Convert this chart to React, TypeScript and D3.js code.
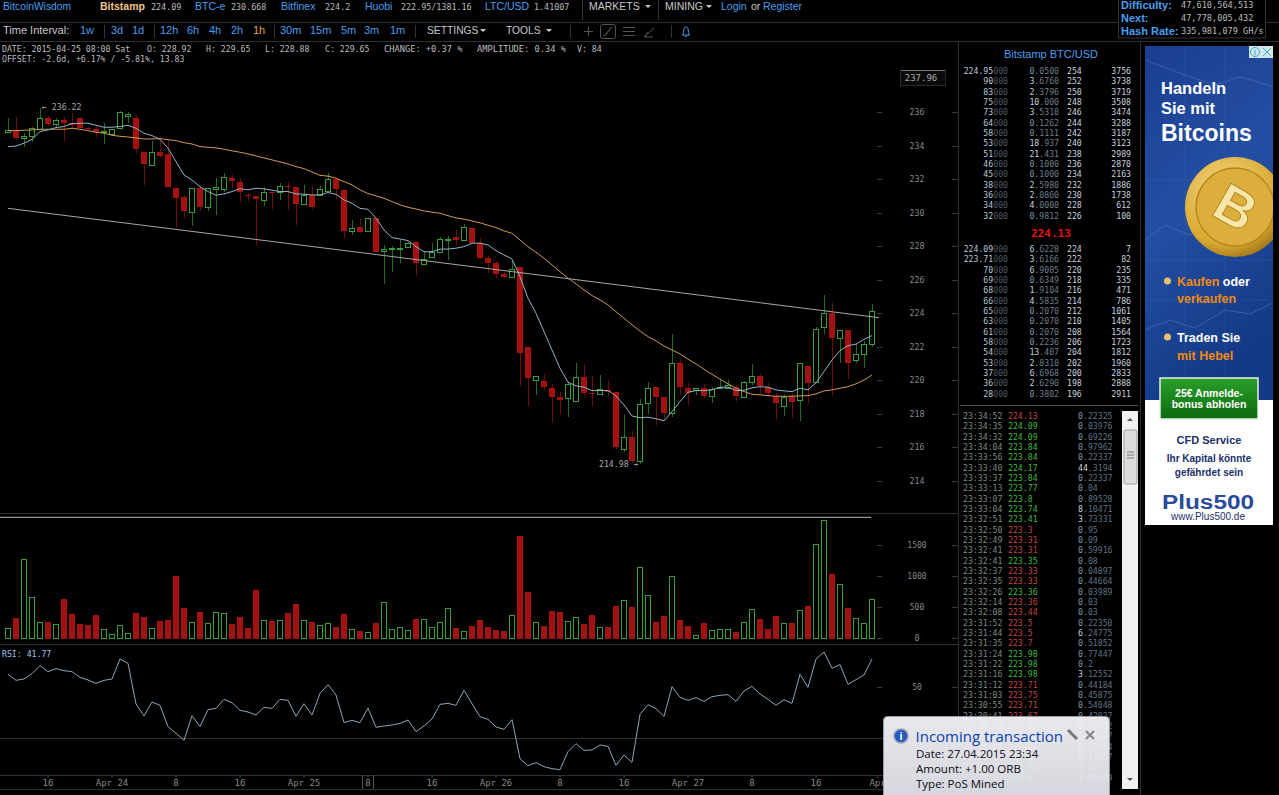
import React from 'react';
import * as d3 from 'd3';

// [open, high, low, close]
const ohlc: number[][] = [
[234.79,235.63,234.73,234.91],[234.91,235.69,234.47,234.47],[234.47,234.73,233.90,234.59],[234.55,235.09,234.23,235.07],[234.99,236.22,234.99,235.63],
[235.63,235.76,235.19,235.31],[235.31,235.63,235.03,235.51],[235.51,235.69,234.29,235.35],[235.33,235.93,235.07,235.25],[235.63,235.69,235.07,235.07],
[235.07,235.11,234.93,234.99],[234.97,235.17,234.53,234.83],[234.79,235.33,234.09,234.87],[234.69,235.01,234.63,234.97],[235.03,236.06,235.03,236.02],
[235.75,236.02,235.36,235.87],[235.63,235.82,233.57,233.78],[233.60,233.60,231.65,232.90],[232.84,234.27,232.80,233.63],[233.63,234.53,233.28,233.39],
[233.50,234.33,231.54,231.54],[231.48,231.48,229.06,230.89],[230.91,231.05,229.69,230.11],[230.05,231.48,229.20,231.48],[231.48,231.65,230.09,230.35],
[230.35,231.45,230.11,231.45],[231.42,232.05,229.85,231.53],[231.41,232.34,231.25,232.11],[232.05,232.24,231.45,231.90],[231.81,232.05,230.65,231.21],
[231.07,231.19,230.69,231.03],[230.99,230.99,228.06,230.83],[230.75,231.51,230.39,231.21],[231.23,231.23,230.21,231.19],[231.21,231.75,230.75,231.57],
[231.59,231.84,230.15,231.54],[231.53,231.53,229.28,230.51],[230.51,231.65,230.45,231.05],[231.03,231.59,230.19,230.31],[231.03,231.59,230.99,231.39],
[231.31,232.34,231.31,231.99],[231.99,232.00,230.79,231.41],[231.35,231.35,228.50,228.90],[228.92,229.56,228.66,229.08],[229.12,229.62,228.80,228.82],
[228.92,229.65,228.88,229.65],[229.68,229.68,227.65,227.65],[227.69,228.06,225.74,227.82],[227.84,228.00,226.43,227.88],[227.87,228.36,227.01,227.90],
[227.96,228.26,227.93,228.17],[228.22,228.32,226.23,226.97],[226.95,227.66,226.87,227.23],[227.33,228.17,227.31,227.63],[227.63,228.52,227.60,228.40],
[228.40,228.60,227.17,228.44],[228.52,228.96,228.06,228.34],[228.36,229.32,228.32,229.12],[229.06,229.06,228.17,228.17],[228.17,228.46,227.23,227.31],
[227.29,227.41,226.41,227.01],[226.99,227.13,226.08,226.35],[226.33,226.47,226.08,226.15],[226.17,227.13,226.17,226.61],[226.73,226.73,219.66,221.63],
[221.97,221.97,218.47,220.14],[220.02,220.26,219.13,220.26],[219.93,220.36,219.41,219.57],[219.54,219.75,217.45,219.01],[218.97,219.27,217.91,218.83],
[218.95,219.87,217.81,219.75],[218.77,221.04,218.77,220.17],[220.17,220.94,219.11,219.25],[219.23,220.24,218.37,219.19],[219.19,220.28,219.11,219.45],
[219.41,220.00,219.05,219.31],[219.31,219.31,215.88,216.02],[215.90,217.91,215.72,216.58],[216.58,216.96,215.03,215.19],[215.19,218.87,214.98,218.55],
[218.61,219.87,217.97,219.54],[219.57,219.60,217.32,219.01],[218.97,219.01,217.62,218.05],[218.05,222.75,217.81,221.04],[221.02,221.24,219.11,219.60],
[219.54,219.81,218.51,219.21],[219.39,219.54,219.11,219.54],[219.54,219.75,218.91,219.03],[219.07,219.57,218.65,219.47],[219.54,220.08,219.51,219.60],
[219.54,220.00,219.51,219.69],[219.60,219.71,218.77,219.05],[219.01,219.94,218.97,219.87],[219.90,220.96,219.71,220.26],[220.26,220.34,219.11,219.65],
[219.60,219.84,219.01,219.25],[219.07,219.21,217.62,218.61],[218.47,219.11,217.85,219.01],[219.07,219.21,217.72,218.71],[218.79,221.04,217.57,221.04],
[220.84,220.84,218.57,219.84],[219.87,223.15,219.87,223.03],[223.15,225.08,222.75,223.99],[223.99,224.58,219.05,222.53],[222.53,222.99,221.04,222.97],
[222.99,222.99,220.06,221.04],[221.18,222.15,221.04,221.54],[221.57,222.35,220.70,222.14],[222.17,224.54,221.96,224.12],
];
const volumes = [156,318,1277,658,253,253,232,636,383,221,205,377,140,59,205,75,399,334,167,270,286,1003,480,253,415,243,415,399,221,334,156,771,286,270,286,399,544,286,253,205,243,172,383,140,119,92,237,577,140,183,124,313,302,172,253,480,156,119,189,286,172,129,119,377,1649,749,253,189,431,415,270,334,221,377,183,172,512,609,501,1148,695,253,361,1008,296,189,54,243,124,151,140,102,253,474,313,140,350,243,243,447,512,1525,1903,1030,879,491,318,243,636];
const maFast = [233.93,233.97,234.14,234.37,234.83,234.93,235.07,235.13,235.31,235.33,235.33,235.21,235.09,235.09,235.13,235.21,235.03,234.73,234.59,234.37,233.84,233.04,232.24,231.94,231.54,231.25,231.03,231.11,231.25,231.42,231.35,231.45,231.41,231.33,231.25,231.25,231.11,231.09,231.05,231.05,
231.19,231.09,230.75,230.55,230.25,230.19,229.66,228.96,228.50,228.42,228.32,227.96,227.66,227.66,227.81,227.82,227.87,227.96,228.17,228.17,228.06,227.72,227.47,227.23,226.17,224.88,223.99,222.89,221.79,220.70,219.87,219.65,219.57,219.37,219.37,219.37,219.05,218.51,217.85,217.75,
217.78,217.69,217.56,218.11,218.71,219.27,219.37,219.37,219.41,219.57,219.57,219.37,219.39,219.53,219.60,219.57,219.41,219.35,219.31,219.51,219.41,219.84,220.50,221.20,221.75,222.05,222.14,222.43,222.65];
const maSlow = [234.89,234.89,234.91,234.93,234.97,234.97,234.97,234.97,235.03,234.97,234.89,234.79,234.73,234.61,234.55,234.51,234.45,234.39,234.39,234.41,234.35,234.29,234.17,234.09,233.93,233.90,233.85,233.78,233.68,233.60,233.50,233.38,233.26,233.14,233.02,232.90,232.74,232.62,232.42,232.22,
232.17,232.05,231.84,231.65,231.35,231.13,230.99,230.85,230.65,230.45,230.31,230.21,230.09,230.02,229.96,229.81,229.68,229.60,229.50,229.38,229.24,229.10,228.90,228.76,228.36,227.96,227.63,227.27,226.87,226.47,226.08,225.74,225.38,225.04,224.78,224.48,224.08,223.69,223.29,222.93,
222.59,222.33,222.03,221.79,221.56,221.24,220.96,220.64,220.34,220.05,219.77,219.51,219.31,219.15,219.11,219.07,219.03,219.03,219.03,219.05,219.07,219.17,219.35,219.41,219.51,219.60,219.77,220.00,220.30];
const rsiValues = [54.94,52.6,53.12,55.2,58.32,55.98,57.15,56.37,55.98,53.77,52.73,51.43,52.6,53.12,60.92,59.23,43.37,38.69,44.15,42.85,34.54,31.94,29.21,38.82,34.54,41.16,41.68,45.19,43.89,40.9,40.25,39.08,42.07,41.68,45.19,44.8,38.56,43.5,39.08,47.53,50.91,46.88,36.1,37,36.1,41.77,34.28,34.8,35.19,35.83,37.13,32.59,34.8,37.52,43.24,43.63,42.85,48.7,43.5,38.43,
37.4,34.41,33.5,37.26,22.06,19.33,20.5,18.94,18.16,17.77,24.79,27.91,25.31,25.44,27.39,26.87,19.46,23.49,20.63,39.34,43.11,41.55,38.56,50.13,45.97,44.8,45.84,44.41,46.23,46.75,47.01,44.41,48.44,50.26,47.27,45.19,42.85,45.06,43.63,54.94,49.87,60.92,63.65,57.28,58.71,51.04,52.86,54.68,60.92];
const trendPrices = [230.25, 223.72];
const volumeLevel = 1953;
const priceTicks = [236,234,232,230,228,226,224,222,220,218,216,214];
const volumeTicks = [1500,1000,500,0];
const timeTicks: [string, number][] = [['16',5],['Apr 24',13],['8',21],['16',29],['Apr 25',37],['8',45],['16',53],['Apr 26',61],['8',69],['16',77],['Apr 27',85],['8',93],['16',101],['Apr',108.7]];

const infoLine: [string, number][] = [['DATE: 2015-04-25 08:00 Sat',2],['O: 228.92',147],['H: 229.65',206],['L: 228.88',265],['C: 229.65',325],['CHANGE: +0.37 %',384],['AMPLITUDE: 0.34 %',477],['V: 84',577]];
const askPrices = ['224.95','90','83','75','73','64','58','53','51','46','45','38','36','34','32'];
const askAmounts = ['0.0500','3.6760','2.3796','10.000','3.5310','0.1262','0.1111','18.937','21.431','0.1000','0.1000','2.5980','2.0860','4.0000','0.9812'];
const askLevels = ['254','252','250','248','246','244','242','240','238','236','234','232','230','228','226'];
const askSums = ['3756','3738','3719','3508','3474','3288','3187','3123','2989','2870','2163','1886','1738','612','100'];
const bidPrices = ['224.09','223.71','70','69','68','66','65','63','61','58','54','53','37','36','28'];
const bidAmounts = ['6.6228','3.6166','6.9085','0.6349','1.9104','4.5835','0.2070','0.2070','0.2070','0.2236','13.407','2.8310','6.6968','2.6290','0.3802'];
const bidLevels = ['224','222','220','218','216','214','212','210','208','206','204','202','200','198','196'];
const bidSums = ['7','82','235','335','471','786','1061','1405','1564','1723','1812','1960','2833','2888','2911'];
const trades: [string,string,number,string][] = [
['23:34:52','224.13',0,'0.22325'],['23:34:35','224.09',1,'0.03976'],['23:34:32','224.09',1,'0.69226'],['23:34:04','223.84',1,'0.97962'],['23:33:56','223.84',1,'0.22337'],
['23:33:40','224.17',1,'44.3194'],['23:33:37','223.84',1,'0.22337'],['23:33:13','223.77',1,'0.04'],['23:33:07','223.8',1,'0.89528'],['23:33:04','223.74',1,'8.10471'],
['23:32:51','223.41',1,'3.73331'],['23:32:50','223.3',0,'0.95'],['23:32:49','223.31',0,'0.09'],['23:32:41','223.31',0,'0.59916'],['23:32:41','223.35',1,'0.08'],
['23:32:37','223.33',0,'0.04897'],['23:32:35','223.33',0,'0.44664'],['23:32:26','223.36',1,'0.03989'],['23:32:14','223.36',0,'0.03'],['23:32:08','223.44',0,'0.03'],
['23:31:52','223.5',0,'0.22350'],['23:31:44','223.5',0,'6.24775'],['23:31:35','223.7',0,'0.51852'],['23:31:24','223.98',1,'0.77447'],['23:31:22','223.98',1,'0.2'],
['23:31:16','223.98',1,'3.12552'],['23:31:12','223.71',0,'0.44184'],['23:31:03','223.75',0,'0.45875'],['23:30:55','223.71',0,'0.54048'],['23:30:41','223.67',0,'0.42027'],
['23:30:38','223.67',0,'0.47792'],['23:30:31','223.66',0,'0.50227'],['23:30:24','223.66',0,'0.53384'],['23:30:17','223.65',0,'0.41867'],['23:30:11','223.72',1,'0.03'],['23:30:02','223.8',1,'1.49999'],
];
const headerItems: [string,number,string,string?,number?][] = [
['Bitstamp',100,'#f4c48e','224.09',151],['BTC-e',195,'#4a9fee','230.668',231],['Bitfinex',281,'#4a9fee','224.2',325],['Huobi',365,'#4a9fee','222.95/1381.16',401],['LTC/USD',485,'#4a9fee','1.41007',534],
];
const intervals: [string,number,string?][] = [['1w',80],['3d',111],['1d',132],['12h',160],['6h',187],['4h',209],['2h',231],['1h',253,'#e8a35c'],['30m',280],['15m',310],['5m',341],['3m',364],['1m',390]];
const blockStats: [string,string,number][] = [['Difficulty:','47,610,564,513',5],['Next:','47,778,005,432',18],['Hash Rate:','335,981,079 GH/s',31]];

const MONO = '"DejaVu Sans Mono", monospace';
const SANS = '"Liberation Sans", Arial, sans-serif';
const BLUE = '#4a9fee';
const GRID = '#303030';
const UP = '#38a038';
const DOWN = '#a51111';

const x = d3.scaleLinear().domain([0, 108]).range([8, 872]);
const yP = d3.scaleLinear().domain([214, 236]).range([480.5, 112]);
const yV = d3.scaleLinear().domain([0, 1500]).range([638, 545.3]);
const yR = d3.scaleLinear().domain([30, 50]).range([738.3, 687]);
const lineP = d3.line<number>().x((_, i) => x(i)).y(d => yP(d));
const lineR = d3.line<number>().x((_, i) => x(i)).y(d => yR(d));

function Mono({ x: px, y, s = 9, fill = '#b5b5b5', anchor = 'start', weight = 'normal', children }: any) {
  return <text x={px} y={y} fontFamily={MONO} fontSize={s} fill={fill} textAnchor={anchor} fontWeight={weight}>{children}</text>;
}
function Sans({ x: px, y, s = 11, fill = BLUE, anchor = 'start', weight = 'normal', children }: any) {
  return <text x={px} y={y} fontFamily={SANS} fontSize={s} fill={fill} textAnchor={anchor} fontWeight={weight}>{children}</text>;
}
const Caret = ({ x: px, y, c = '#c8c8c8' }: any) => <path d={`M${px} ${y}h6l-3 3z`} fill={c} />;
const VSep = ({ x: px, y1, y2 }: any) => <line x1={px + 0.5} x2={px + 0.5} y1={y1} y2={y2} stroke="#333" />;

function Amount({ x: px, y, v }: any) {
  const [a, b] = v.split('.');
  return <text x={px} y={y} fontFamily={MONO} fontSize={8.2} textAnchor="end">
    <tspan fill={a === '0' ? '#7f9bb0' : '#c9d3da'}>{a}</tspan><tspan fill="#6d7f8c">.{b}</tspan>
  </text>;
}
function BookRow({ y, price, amount, level, sum }: any) {
  return <g>
    <text x={1008} y={y} fontFamily={MONO} fontSize={8.2} textAnchor="end"><tspan fill="#b9c6d0">{price}</tspan><tspan fill="#4c5a66">000</tspan></text>
    <Amount x={1059} y={y} v={amount} />
    <Mono x={1067} y={y} s={8.2} fill="#c6d2dc">{level}</Mono>
    <Mono x={1131} y={y} s={8.2} fill="#c6d2dc" anchor="end">{sum}</Mono>
  </g>;
}

function Chart() {
  return <g>
    {/* panel frames */}
    <g stroke={GRID} shapeRendering="crispEdges">
      <line x1={0} x2={1279} y1={22.5} y2={22.5} />
      <line x1={0} x2={1279} y1={41.5} y2={41.5} />
      <line x1={0} x2={958} y1={513.5} y2={513.5} />
      <line x1={0} x2={958} y1={644.5} y2={644.5} />
      <line x1={0} x2={958} y1={775.5} y2={775.5} />
      <line x1={0} x2={958} y1={789.5} y2={789.5} />
      <line x1={0} x2={958} y1={738.5} y2={738.5} />
      <line x1={958.5} x2={958.5} y1={41} y2={795} />
      <line x1={1140.5} x2={1140.5} y1={41} y2={795} />
      <line x1={960} x2={1138} y1={405.5} y2={405.5} stroke="#555" />
    </g>
    {/* price axis */}
    {priceTicks.map(t => <g key={t}>
      <path d={`M877 ${Math.round(yP(t)) + 0.5}h5M952 ${Math.round(yP(t)) + 0.5}h6`} stroke="#3a3a3a" />
      <Mono x={917} y={yP(t) + 3} s={8.2} fill="#888" anchor="middle">{t}</Mono>
    </g>)}
    <rect x={900.5} y={70.5} width={45} height={15} fill="#0a0a0a" stroke="#2a2a2a" />
    <line x1={901} x2={945} y1={70.5} y2={70.5} stroke="#777" />
    <Mono x={921} y={81} s={9} fill="#aaa" anchor="middle">237.96</Mono>
    {/* volume axis */}
    {volumeTicks.map(t => <g key={t}>
      <path d={`M877 ${Math.round(yV(t)) + 0.5}h5M952 ${Math.round(yV(t)) + 0.5}h6`} stroke="#3a3a3a" />
      <Mono x={917} y={yV(t) + 3} s={8} fill="#888" anchor="middle">{t}</Mono>
    </g>)}
    {/* rsi axis */}
    <path d={`M877 ${Math.round(yR(50)) + 0.5}h5M952 ${Math.round(yR(50)) + 0.5}h6`} stroke="#3a3a3a" />
    <Mono x={917} y={yR(50) + 3} s={8} fill="#888" anchor="middle">50</Mono>
    {/* time axis */}
    {timeTicks.map(([t, i], k) => <g key={k}>
      <line x1={x(i)} x2={x(i)} y1={775} y2={778} stroke="#444" />
      <Mono x={x(i)} y={786} s={9} fill="#888" anchor="middle">{t}</Mono>
    </g>)}
    <path d="M362.5 775V789M373.5 775V789" stroke="#555" />

    {/* candles */}
    <g shapeRendering="crispEdges">
      {ohlc.map(([o, h, l, c], i) => {
        const up = c >= o;
        const cx = x(i);
        const top = Math.round(yP(Math.max(o, c)));
        const bot = Math.round(yP(Math.min(o, c)));
        return <g key={i}>
          <rect x={cx} width={1} y={yP(h)} height={yP(l) - yP(h)} fill={up ? '#1f6e1f' : '#720c0c'} />
          {up
            ? <rect x={cx - 2.5} y={top + 0.5} width={5} height={Math.max(bot - top, 1)} fill="#000" stroke={UP} />
            : <rect x={cx - 3} y={top} width={6} height={Math.max(bot - top, 1)} fill={DOWN} />}
        </g>;
      })}
    </g>
    <path d={lineP(maSlow)!} fill="none" stroke="#cf9757" strokeWidth={1} />
    <path d={lineP(maFast)!} fill="none" stroke="#93b3c8" strokeWidth={1} />
    <line x1={x(0)} x2={879} y1={yP(trendPrices[0])} y2={yP(trendPrices[1])} stroke="#a8a8a8" strokeWidth={1} />
    <Mono x={42} y={110} s={8.2} fill="#aaa">← 236.22</Mono>
    <Mono x={599} y={467} s={8.2} fill="#aaa">214.98 →</Mono>

    {/* volume */}
    <line x1={0} x2={871} y1={yV(volumeLevel)} y2={yV(volumeLevel)} stroke="#b8b8b8" />
    <g shapeRendering="crispEdges">
      {volumes.map((v, i) => {
        const up = ohlc[i][3] >= ohlc[i][0];
        const cx = x(i);
        const t = Math.round(yV(v));
        return up
          ? <rect key={i} x={cx - 2.5} y={t + 0.5} width={5} height={638 - t - 0.5} fill="#000" stroke={UP} />
          : <rect key={i} x={cx - 3} y={t} width={6} height={639 - t} fill={DOWN} />;
      })}
    </g>
    {/* rsi */}
    <Mono x={2} y={657} s={8.2} fill="#9cc6ee">RSI: 41.77</Mono>
    <path d={lineR(rsiValues)!} fill="none" stroke="#8aa6bb" strokeWidth={1} />
    {/* info */}
    {infoLine.map(([t, px]) => <Mono key={t} x={px} y={52} s={t.startsWith('CHANGE') || t.startsWith('AMPLITUDE') ? 8.7 : 8.2} fill="#bdbdbd">{t}</Mono>)}
    <Mono x={2} y={62} s={8.2} fill="#bdbdbd">OFFSET: -2.6d, +6.17% / -5.81%, 13.83</Mono>
  </g>;
}

function Header() {
  return <g>
    <Sans x={3} y={10} s={10.3}>BitcoinWisdom</Sans>
    {headerItems.map(([n, px, c, v, vx]) => <g key={n}>
      <Sans x={px} y={10} s={10.5} fill={c} weight={n === 'Bitstamp' ? 'bold' : 'normal'}>{n}</Sans>
      <Mono x={vx} y={10} s={8.4} fill="#bbb">{v}</Mono>
    </g>)}
    <VSep x={582} y1={0} y2={20} />
    <Sans x={589} y={10} s={10.5} fill="#c8c8c8">MARKETS</Sans><Caret x={645} y={5} />
    <VSep x={658} y1={0} y2={20} />
    <Sans x={665} y={10} s={10.5} fill="#c8c8c8">MINING</Sans><Caret x={706} y={5} />
    <Sans x={721} y={10} s={10.5}>Login</Sans>
    <Sans x={751} y={10} s={10.5} fill="#c8c8c8">or</Sans>
    <Sans x={763} y={10} s={10.5}>Register</Sans>
    <rect x={1118.5} y={-1} width={147} height={39} fill="#000" stroke="#333" />
    {blockStats.map(([k, v, y]) => <g key={k}>
      <Sans x={1121} y={y + 4} s={11} weight="bold">{k}</Sans>
      <Mono x={1181} y={y + 3} s={8.6} fill="#bbb">{v}</Mono>
    </g>)}
    <Sans x={3} y={34} s={11} fill="#c8c8c8">Time Interval:</Sans>
    {intervals.map(([t, px, c]) => <Sans key={t} x={px} y={34} s={11} fill={c || BLUE}>{t}</Sans>)}
    {[104, 154, 274, 415, 570, 671].map(p => <VSep key={p} x={p} y1={25} y2={38} />)}
    <Sans x={427} y={34} s={10.3} fill="#c8c8c8">SETTINGS</Sans><Caret x={480} y={29} />
    <Sans x={506} y={34} s={10.3} fill="#c8c8c8">TOOLS</Sans><Caret x={546} y={29} />
    <path d="M584 31.5h9M588.5 27v9" stroke="#555" />
    <rect x={600.5} y={24.5} width={15} height={14} rx={2} fill="none" stroke="#555" />
    <path d="M604 36l8-9" stroke="#777" />
    <path d="M623 27.5h12M623 31.5h12M623 35.5h12" stroke="#555" />
    <path d="M644 37l10-9M645 37l3-5M645 37h8" stroke="#555" fill="none" />
    <path d="M682 35h8M683 35c1-3 0-8 3-8s2 5 3 8M685 36.5h2" stroke={BLUE} fill="none" />
  </g>;
}

function Book() {
  return <g>
    <Sans x={1051} y={58} s={11} anchor="middle">Bitstamp BTC/USD</Sans>
    {askPrices.map((p, i) => <BookRow key={i} y={74 + i * 10.33} price={p} amount={askAmounts[i]} level={askLevels[i]} sum={askSums[i]} />)}
    <Mono x={1051} y={237} s={11} fill="#e81010" anchor="middle" weight="bold">224.13</Mono>
    {bidPrices.map((p, i) => <BookRow key={i} y={252 + i * 10.33} price={p} amount={bidAmounts[i]} level={bidLevels[i]} sum={bidSums[i]} />)}
    {trades.map(([t, p, up, v], i) => {
      const y = 419 + i * 10.33;
      return <g key={i}>
        <Mono x={963} y={y} s={8.2} fill="#7e8a80">{t}</Mono>
        <Mono x={1008} y={y} s={8.2} fill={up ? '#41b841' : '#c04444'}>{p}</Mono>
        <Mono x={1078} y={y} s={8.2} fill="#5f7484"><tspan fill={v.startsWith('0') ? '#7f9bb0' : '#c9d3da'}>{v.split('.')[0]}</tspan>.{v.split('.')[1]}</Mono>
      </g>;
    })}
    <rect x={1122} y={411} width={16} height={378} fill="#f1f1f1" />
    <path d="M1127 421l3-3 3 3z" fill="#555" />
    <path d="M1127 778l3 3 3-3z" fill="#555" />
    <rect x={1124} y={430} width={13} height={54} rx={2} fill="#dcdcdc" stroke="#a0a0a0" />
    <path d="M1127 452h7M1127 455h7M1127 458h7" stroke="#777" />
  </g>;
}

function Ad() {
  return <g>
    <defs>
      <linearGradient id="adBg" x1="0" y1="0" x2="0.3" y2="1"><stop offset="0" stopColor="#1b3d8f" /><stop offset="0.5" stopColor="#234fa3" /><stop offset="1" stopColor="#143a86" /></linearGradient>
      <radialGradient id="coin" cx="0.4" cy="0.35" r="0.75"><stop offset="0" stopColor="#f6dc8c" /><stop offset="0.7" stopColor="#d8a830" /><stop offset="1" stopColor="#8a6210" /></radialGradient>
      <linearGradient id="btn" x1="0" y1="0" x2="0" y2="1"><stop offset="0" stopColor="#2aa02a" /><stop offset="1" stopColor="#0c6a10" /></linearGradient>
      <linearGradient id="pop" x1="0" y1="0" x2="0" y2="1"><stop offset="0" stopColor="#f4f5f9" /><stop offset="1" stopColor="#dfe0e8" /></linearGradient>
      <clipPath id="adClip"><rect x={1145} y={46} width={128} height={479} /></clipPath>
    </defs>
    <g clipPath="url(#adClip)">
      <rect x={1145} y={46} width={128} height={354} fill="url(#adBg)" />
      <path d="M1145 240l20-15 25 10 30-25 30 5 25-20M1145 330l25-10 25 8 30-18 25 4 25-12M1145 60l40 15 30 10 25-8 35 10" fill="none" stroke="#5a82c8" strokeOpacity={0.45} />
      <path d="M1145 180h130M1145 260h130M1145 300h130M1185 46v354M1225 46v354" stroke="#5a82c8" strokeOpacity={0.18} />
      <circle cx={1235} cy={207} r={50} fill="url(#coin)" />
      <circle cx={1235} cy={207} r={39} fill="#dcae3c" stroke="#b8861e" strokeWidth={1.5} />
      <text x={1236} y={226} transform="rotate(30 1236 207)" fontFamily={SANS} fontWeight="bold" fontSize={54} fill="#f8e5a8" stroke="#a87a18" strokeWidth={0.8} textAnchor="middle">B</text>
      <Sans x={1161} y={94} s={16.5} fill="#fff" weight="bold">Handeln</Sans>
      <Sans x={1161} y={114} s={16.5} fill="#fff" weight="bold">Sie mit</Sans>
      <Sans x={1161} y={141} s={23} fill="#fff" weight="bold">Bitcoins</Sans>
      <circle cx={1167.5} cy={281} r={3.5} fill="#e8c070" />
      <circle cx={1167.5} cy={337} r={3.5} fill="#e8c070" />
      <text x={1177} y={286} fontFamily={SANS} fontSize={12.5} fontWeight="bold"><tspan fill="#f08a10">Kaufen</tspan><tspan fill="#fff"> oder</tspan></text>
      <Sans x={1177} y={303} s={12.5} fill="#f08a10" weight="bold">verkaufen</Sans>
      <Sans x={1177} y={342} s={12.5} fill="#fff" weight="bold">Traden Sie</Sans>
      <Sans x={1177} y={360} s={12.5} fill="#f08a10" weight="bold">mit Hebel</Sans>
      <rect x={1145} y={400} width={128} height={125} fill="#fff" />
      <rect x={1160} y={378} width={98} height={41} fill="url(#btn)" stroke="#e6efe6" strokeWidth={1.5} />
      <Sans x={1209} y={397} s={10.5} fill="#fff" weight="bold" anchor="middle">25€ Anmelde-</Sans>
      <Sans x={1209} y={408} s={10.5} fill="#fff" weight="bold" anchor="middle">bonus abholen</Sans>
      <Sans x={1209} y={444} s={11} fill="#1c2f6e" weight="bold" anchor="middle">CFD Service</Sans>
      <Sans x={1209} y={462} s={10} fill="#1c2f6e" weight="bold" anchor="middle">Ihr Kapital könnte</Sans>
      <Sans x={1209} y={476} s={10} fill="#1c2f6e" weight="bold" anchor="middle">gefährdet sein</Sans>
      <text x={1208} y={509} fontFamily={SANS} fontSize={20} fontWeight="bold" fill="#2a4a9a" textAnchor="middle" textLength={92} lengthAdjust="spacingAndGlyphs">Plus500</text>
      <Sans x={1208} y={520} s={10} fill="#1c2f6e" anchor="middle">www.Plus500.de</Sans>
      <rect x={1249} y={46} width={24} height={12} fill="#d6e4ec" />
      <circle cx={1255} cy={52} r={4.5} fill="none" stroke="#27b0c8" />
      <path d="M1255 50v5M1263 48l8 8M1271 48l-8 8" stroke="#27b0c8" />
    </g>
  </g>;
}

function Popup() {
  return <g>
    <rect x={883.5} y={716.5} width={226} height={90} rx={4} fill="url(#pop)" fillOpacity={0.95} stroke="#9a9aa5" />
    <circle cx={901} cy={736} r={7} fill="#2a58b8" stroke="#9aa5c0" strokeWidth={1.5} />
    <text x={901} y={740} fontFamily={SANS} fontSize={11} fontWeight="bold" fill="#fff" textAnchor="middle">i</text>
    <text x={915.5} y={742} fontFamily='"Open Sans", sans-serif' fontSize={15} fill="#0a3fb0">Incoming transaction</text>
    <path d="M1068 730l9 9" stroke="#777" strokeWidth={3} />
    <path d="M1086 731l8 8M1094 731l-8 8" stroke="#888" strokeWidth={2.2} />
    <g fontFamily='"Open Sans", sans-serif' fontSize={11.5} fill="#0a0a14">
      <text x={916} y={758}>Date: 27.04.2015 23:34</text>
      <text x={916} y={773}>Amount: +1.00 ORB</text>
      <text x={916} y={788}>Type: PoS Mined</text>
    </g>
  </g>;
}

export default function App() {
  return <svg width={1279} height={795} viewBox="0 0 1279 795" style={{ position: 'fixed', left: 0, top: 0, background: '#000' }}>
    <rect width={1279} height={795} fill="#000" />
    <Chart />
    <Header />
    <Book />
    <Ad />
    <Popup />
  </svg>;
}
